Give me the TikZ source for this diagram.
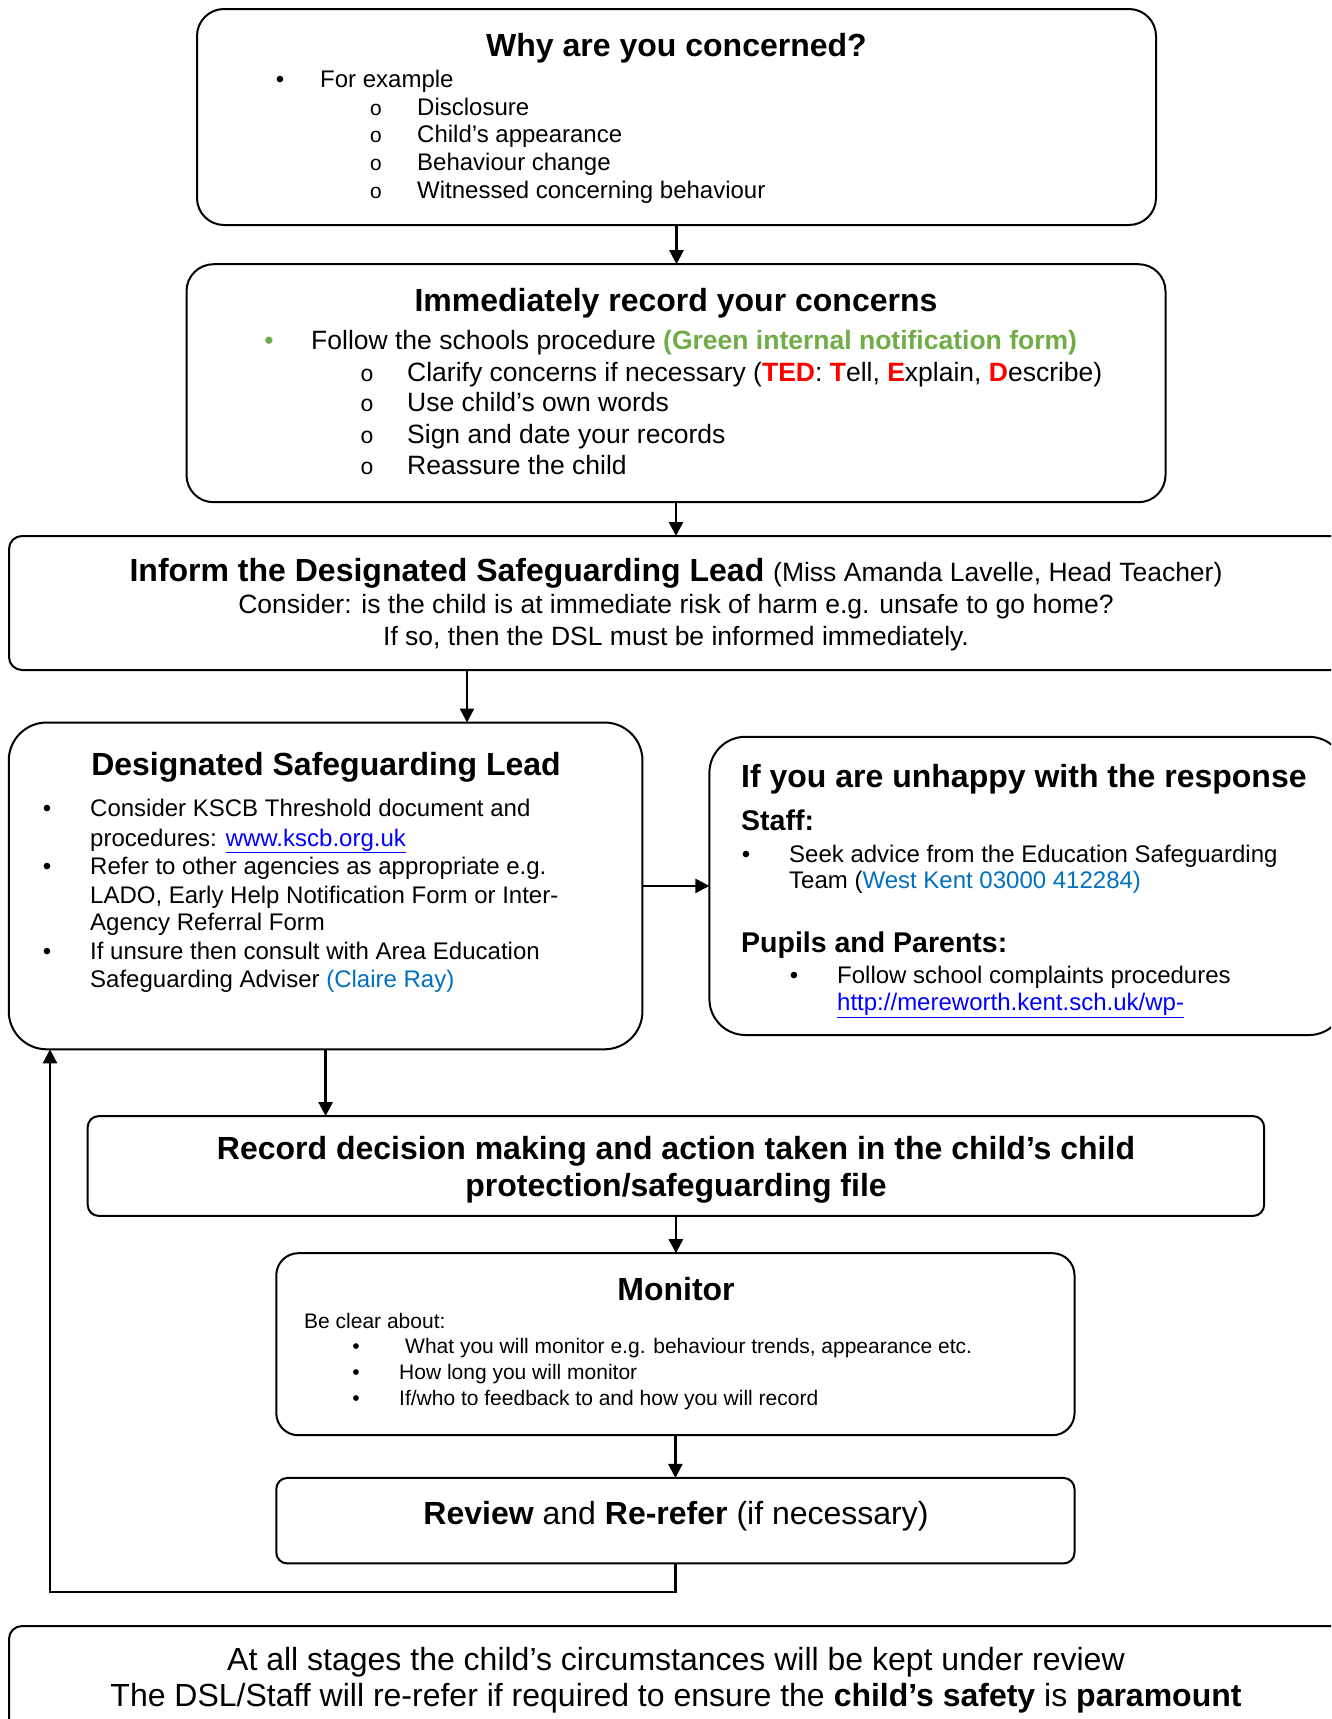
\documentclass[tikz,border=0pt]{standalone}
\usepackage{fontspec}
\setmainfont{Liberation Sans}
\newfontfamily\monof{Liberation Mono}
\usetikzlibrary{arrows.meta}
\definecolor{offgreen}{RGB}{112,173,71}
\definecolor{tedred}{RGB}{255,0,0}
\definecolor{infoblue}{RGB}{0,112,192}
\definecolor{linkblue}{RGB}{0,0,255}
\newcommand{\sz}[1]{\fontsize{#1}{#1}\selectfont}
\newcommand{\lnk}[1]{\textcolor{linkblue}{\underline{#1}}}
\begin{document}
\begin{tikzpicture}[x=1pt,y=-1pt,
  box/.style={draw, line width=2pt, inner sep=0pt, outer sep=0pt},
  txt/.style={inner sep=0pt, anchor=base west},
  ctxt/.style={inner sep=0pt, anchor=base},
  arr/.style={line width=2.4pt, -{Triangle[length=14pt,width=14pt]}},
  ]
\fill[white] (0,0) rectangle (1331,1719);
\useasboundingbox (0,0) rectangle (1331,1719);
\clip (0,0) rectangle (1331,1719);

% boxes
\node[box, rounded corners=27pt, minimum width=959pt, minimum height=216pt] (b1) at (676.5,117) {};
\node[box, rounded corners=27pt, minimum width=979pt, minimum height=238pt] (b2) at (676,383.2) {};
\node[box, rounded corners=13pt, minimum width=1336pt, minimum height=134pt] (b3) at (677,603) {};
\node[box, rounded corners=38pt, minimum width=633.7pt, minimum height=326.8pt] (b4) at (325.6,885.9) {};
\node[box, rounded corners=36pt, minimum width=635.6pt, minimum height=298.2pt] (b5) at (1027.2,885.9) {};
\node[box, rounded corners=11pt, minimum width=1176.4pt, minimum height=99.8pt] (b6) at (675.9,1166) {};
\node[box, rounded corners=22pt, minimum width=798.2pt, minimum height=182pt] (b7) at (675.4,1344.2) {};
\node[box, rounded corners=11pt, minimum width=798.2pt, minimum height=85.5pt] (b8) at (675.4,1520.7) {};
\node[box, rounded corners=13pt, minimum width=1336pt, minimum height=109pt] (b9) at (677,1680.5) {};

% box 1
\node[ctxt, font=\sz{32}\bfseries] (t1) at (676.5,56) {Why are you concerned?};
\node[ctxt, font=\sz{24}] (t1b) at (280,87) {\textbullet};
\node[txt, font=\sz{24}] (t1a) at (320,87) {For example};
\node[ctxt, font=\sz{21}\monof] (t1o1) at (376,115) {o};
\node[ctxt, font=\sz{21}\monof] (t1o2) at (376,142) {o};
\node[ctxt, font=\sz{21}\monof] (t1o3) at (376,170) {o};
\node[ctxt, font=\sz{21}\monof] (t1o4) at (376,198) {o};
\node[txt, font=\sz{24}] (t1c) at (417,115) {Disclosure};
\node[txt, font=\sz{24}] (t1d) at (417,142) {Child’s appearance};
\node[txt, font=\sz{24}] (t1e) at (417,170) {Behaviour change};
\node[txt, font=\sz{24}] (t1f) at (417,198) {Witnessed concerning behaviour};

% box 2
\node[ctxt, font=\sz{32}\bfseries] (t2) at (676,311) {Immediately record your concerns};
\node[ctxt, font=\sz{26.5}, text=offgreen] (t2b) at (269,349.5) {\textbullet};
\node[txt, font=\sz{26.5}] (t2a) at (311,349.5) {Follow the schools procedure \textcolor{offgreen}{\bfseries (Green internal notification form)}};
\node[ctxt, font=\sz{23}\monof] (t2o1) at (367,381) {o};
\node[ctxt, font=\sz{23}\monof] (t2o2) at (367,411) {o};
\node[ctxt, font=\sz{23}\monof] (t2o3) at (367,443) {o};
\node[ctxt, font=\sz{23}\monof] (t2o4) at (367,474) {o};
\node[txt, font=\sz{26.5}] (t2c) at (407,381) {Clarify concerns if necessary (\textcolor{tedred}{\bfseries TED}: \textcolor{tedred}{\bfseries T}ell, \textcolor{tedred}{\bfseries E}xplain, \textcolor{tedred}{\bfseries D}escribe)};
\node[txt, font=\sz{26.5}] (t2d) at (407,411) {Use child’s own words};
\node[txt, font=\sz{26.5}] (t2e) at (407,443) {Sign and date your records};
\node[txt, font=\sz{26.5}] (t2f) at (407,474) {Reassure the child};

% box 3
\node[ctxt] (t3a) at (676,581) {\sz{32}\bfseries Inform the Designated Safeguarding Lead \sz{26.5}\mdseries (Miss Amanda Lavelle, Head Teacher)};
\node[ctxt, font=\sz{26.5}] (t3b) at (676,613.5) {Consider: is the child is at immediate risk of harm e.g. unsafe to go home?};
\node[ctxt, font=\sz{26.5}] (t3c) at (676,645.5) {If so, then the DSL must be informed immediately.};

% box 4
\node[ctxt, font=\sz{32}\bfseries] (t4) at (326,775) {Designated Safeguarding Lead};
\node[ctxt, font=\sz{24}] (t4b1) at (47,816.5) {\textbullet};
\node[ctxt, font=\sz{24}] (t4b2) at (47,874.5) {\textbullet};
\node[ctxt, font=\sz{24}] (t4b3) at (47,959) {\textbullet};
\node[txt, font=\sz{24}] (t4a) at (90,816.5) {Consider KSCB Threshold document and};
\node[txt, font=\sz{24}] (t4c) at (90,846) {procedures: \lnk{www.kscb.org.uk}};
\node[txt, font=\sz{24}] (t4d) at (90,874.5) {Refer to other agencies as appropriate e.g.};
\node[txt, font=\sz{24}] (t4e) at (90,903) {LADO, Early Help Notification Form or Inter-};
\node[txt, font=\sz{24}] (t4f) at (90,930.5) {Agency Referral Form};
\node[txt, font=\sz{24}] (t4g) at (90,959) {If unsure then consult with Area Education};
\node[txt, font=\sz{24}] (t4h) at (90,987.5) {Safeguarding Adviser \textcolor{infoblue}{(Claire Ray)}};

% box 5
\node[txt, font=\sz{32}\bfseries] (t5) at (741,787) {If you are unhappy with the response};
\node[txt, font=\sz{28.5}\bfseries] (t5s) at (741,830) {Staff:};
\node[ctxt, font=\sz{24}] (t5b1) at (746,862.5) {\textbullet};
\node[txt, font=\sz{24}] (t5a) at (789,862.5) {Seek advice from the Education Safeguarding};
\node[txt, font=\sz{24}] (t5c) at (789,888.5) {Team (\textcolor{infoblue}{West Kent 03000 412284)}};
\node[txt, font=\sz{28.5}\bfseries] (t5p) at (741,952) {Pupils and Parents:};
\node[ctxt, font=\sz{24}] (t5b2) at (794,983.5) {\textbullet};
\node[txt, font=\sz{24}] (t5d) at (837,983.5) {Follow school complaints procedures};
\node[txt, font=\sz{24}] (t5e) at (837,1010.5) {\lnk{http://mereworth.kent.sch.uk/wp-}};

% box 6
\node[ctxt, font=\sz{32}\bfseries] (t6a) at (676,1159) {Record decision making and action taken in the child’s child};
\node[ctxt, font=\sz{32}\bfseries] (t6b) at (676,1196) {protection/safeguarding file};

% box 7
\node[ctxt, font=\sz{32}\bfseries] (t7) at (676,1300) {Monitor};
\node[txt, font=\sz{21}] (t7a) at (304,1328.5) {Be clear about:};
\node[ctxt, font=\sz{21}] (t7b1) at (356,1353.5) {\textbullet};
\node[ctxt, font=\sz{21}] (t7b2) at (356,1379.5) {\textbullet};
\node[ctxt, font=\sz{21}] (t7b3) at (356,1405.5) {\textbullet};
\node[txt, font=\sz{21}] (t7c) at (405,1353.5) {What you will monitor e.g. behaviour trends, appearance etc.};
\node[txt, font=\sz{21}] (t7d) at (399,1379.5) {How long you will monitor};
\node[txt, font=\sz{21}] (t7e) at (399,1405.5) {If/who to feedback to and how you will record};

% box 8
\node[ctxt, font=\sz{32}] (t8) at (676,1524) {\bfseries Review \mdseries and \bfseries Re-refer \mdseries (if necessary)};

% box 9
\node[ctxt, font=\sz{32}] (t9a) at (676,1670.5) {At all stages the child’s circumstances will be kept under review};
\node[ctxt, font=\sz{32}] (t9b) at (676,1706.5) {The DSL/Staff will re-refer if required to ensure the \textbf{child’s safety} is \textbf{paramount}};

% connectors
\coordinate (c3) at (467,0);
\coordinate (lp) at (50,1592);
\draw[arr] (b1.south) -- (b1.south |- b2.north);
\draw[arr] (b2.south) -- (b2.south |- b3.north);
\draw[arr] (c3 |- b3.south) -- (c3 |- b4.north);
\draw[arr] (b4.east) -- (b4.east -| b5.west);
\draw[arr] (b4.south) -- (b4.south |- b6.north);
\draw[arr] (b6.south) -- (b6.south |- b7.north);
\draw[arr] (b7.south) -- (b7.south |- b8.north);
\draw[arr] (b8.south) |- (lp) -- (lp |- b4.south);
\end{tikzpicture}
\end{document}
